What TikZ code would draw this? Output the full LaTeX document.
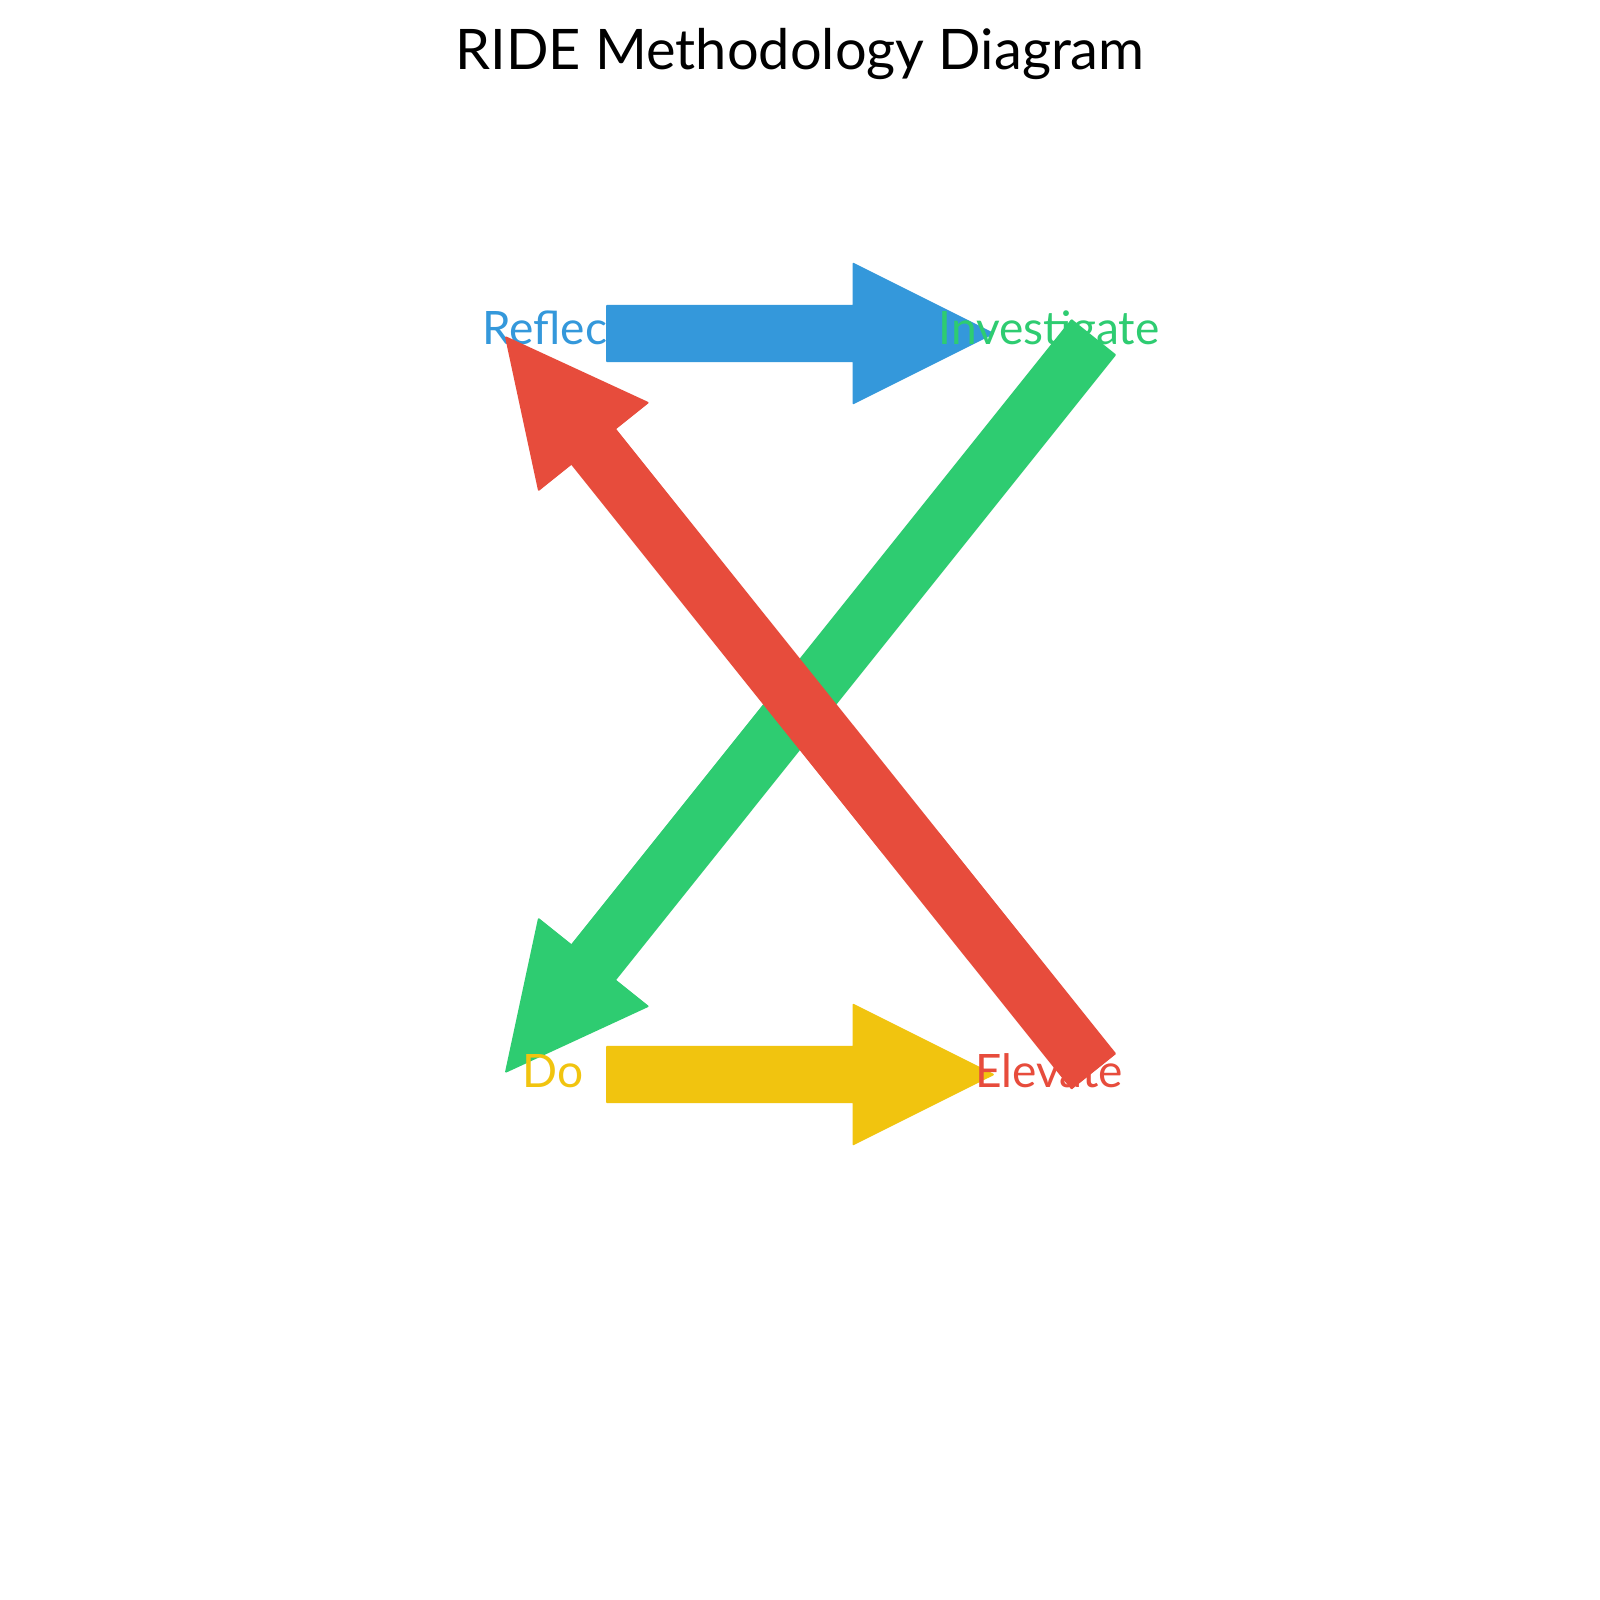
\documentclass[tikz,border=0pt]{standalone}
\usepackage{fontspec}
\setmainfont{Lato}
\usetikzlibrary{calc}
\definecolor{rideblue}{HTML}{3498DB}
\definecolor{ridegreen}{HTML}{2ECC71}
\definecolor{rideyellow}{HTML}{F1C40F}
\definecolor{ridered}{HTML}{E74C3C}
\tikzset{
  stagename/.style={anchor=base, text=#1, inner sep=0pt,
    font=\fontsize{13.1}{15}\selectfont},
  fatarrow/.style={fill=#1, draw=#1, line width=0.5pt, line join=round}
}
% tail, tip, colour
\newcommand\ridearrow[3]{%
  \coordinate (hb) at ($(#2)!1.395cm!(#1)$);
  \path[fatarrow=#3] ($(#1)!0.278cm!90:(#2)$) -- ($(hb)!0.278cm!-90:(#1)$)
    -- ($(hb)!0.697cm!-90:(#1)$) -- (#2) -- ($(hb)!0.697cm!90:(#1)$)
    -- ($(hb)!0.278cm!90:(#1)$) -- ($(#1)!0.278cm!-90:(#2)$) -- cycle;
}

\begin{document}
\begin{tikzpicture}[x=0.01cm, y=-0.01cm]
  \fill[white] (0,0) rectangle (1600,1600);
  \useasboundingbox (0,0) rectangle (1600,1600);

  \node[anchor=base, inner sep=0pt, font=\fontsize{15.9}{19}\selectfont]
    (title) at (800,69.3) {RIDE Methodology Diagram};

  \coordinate (ri-tail) at (607,333.5);
  \coordinate (ri-tip) at (993,333.5);
  \coordinate (id-tail) at (1093.3,337.5);
  \coordinate (id-tip) at (506,1071.7);
  \coordinate (de-tail) at (607,1074.5);
  \coordinate (de-tip) at (993,1074.5);
  \coordinate (er-tail) at (1093.3,1071);
  \coordinate (er-tip) at (506,337.3);

  \node[stagename=rideblue] (reflect) at (553,344.5) {Reflect};
  \ridearrow{ri-tail}{ri-tip}{rideblue}
  \node[stagename=ridegreen] (investigate) at (1049,344.5) {Investigate};
  \ridearrow{id-tail}{id-tip}{ridegreen}
  \node[stagename=rideyellow] (do) at (553,1087.3) {Do};
  \ridearrow{de-tail}{de-tip}{rideyellow}
  \node[stagename=ridered] (elevate) at (1049,1087.3) {Elevate};
  \ridearrow{er-tail}{er-tip}{ridered}
\end{tikzpicture}
\end{document}
